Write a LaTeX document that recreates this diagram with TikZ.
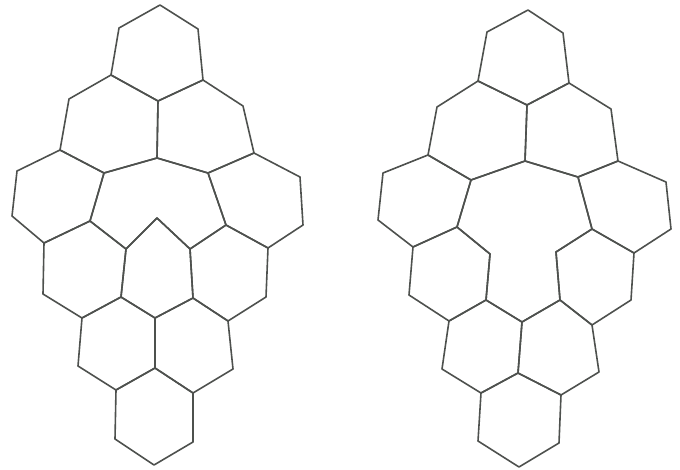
\documentclass[tikz,border=0pt]{standalone}
\begin{document}
\begin{tikzpicture}[x=1pt,y=-1pt,
  cell/.style={draw=edgegray,line width=1.6pt,line join=round}]
\definecolor{edgegray}{HTML}{4E514E}
\useasboundingbox (0,0) rectangle (680,469);
% ---- left figure vertices
\coordinate (A1) at (160,5);   \coordinate (A2) at (119,28);  \coordinate (A3) at (198,29);
\coordinate (A4) at (111,75);  \coordinate (A5) at (203,80);  \coordinate (A6) at (158,101);
\coordinate (B1) at (69,99);   \coordinate (B2) at (60,150);  \coordinate (B3) at (104,173);
\coordinate (B4) at (157,158); \coordinate (B5) at (243,106); \coordinate (B6) at (254,153);
\coordinate (B7) at (208,173);
\coordinate (C1) at (17,171);  \coordinate (C2) at (12,216);  \coordinate (C3) at (44,243);
\coordinate (C4) at (90,221);  \coordinate (C5) at (300,177); \coordinate (C6) at (303,225);
\coordinate (C7) at (268,248); \coordinate (C8) at (226,225);
\coordinate (D1) at (126,249); \coordinate (D2) at (157,218); \coordinate (D3) at (190,249);
\coordinate (E1) at (43,294);  \coordinate (E2) at (82,318);  \coordinate (E3) at (121,297);
\coordinate (E4) at (155,318); \coordinate (E5) at (193,298); \coordinate (E6) at (228,321);
\coordinate (E7) at (266,297);
\coordinate (F1) at (78,366);  \coordinate (F2) at (116,390); \coordinate (F3) at (155,368);
\coordinate (F4) at (193,393); \coordinate (F5) at (233,369);
\coordinate (G1) at (115,439); \coordinate (G2) at (154,465); \coordinate (G3) at (193,442);
% ---- left figure cells
\draw[cell] (A1)--(A3)--(A5)--(A6)--(A4)--(A2)--cycle;
\draw[cell] (A4)--(A6)--(B4)--(B3)--(B2)--(B1)--cycle;
\draw[cell] (A6)--(A5)--(B5)--(B6)--(B7)--(B4)--cycle;
\draw[cell] (B2)--(B3)--(C4)--(C3)--(C2)--(C1)--cycle;
\draw[cell] (B7)--(B6)--(C5)--(C6)--(C7)--(C8)--cycle;
\draw[cell] (B3)--(B4)--(B7)--(C8)--(D3)--(D2)--(D1)--(C4)--cycle;
\draw[cell] (C3)--(C4)--(D1)--(E3)--(E2)--(E1)--cycle;
\draw[cell] (D2)--(D3)--(E5)--(E4)--(E3)--(D1)--cycle;
\draw[cell] (C8)--(C7)--(E7)--(E6)--(E5)--(D3)--cycle;
\draw[cell] (E2)--(E3)--(E4)--(F3)--(F2)--(F1)--cycle;
\draw[cell] (E4)--(E5)--(E6)--(F5)--(F4)--(F3)--cycle;
\draw[cell] (F2)--(F3)--(F4)--(G3)--(G2)--(G1)--cycle;
% ---- right figure vertices
\coordinate (a1) at (528,10);  \coordinate (a2) at (487,32);  \coordinate (a3) at (563,33);
\coordinate (a4) at (478,81);  \coordinate (a5) at (569,83);  \coordinate (a6) at (527,105);
\coordinate (b1) at (437,107); \coordinate (b2) at (428,155); \coordinate (b3) at (471,180);
\coordinate (b4) at (525,161); \coordinate (b5) at (611,109); \coordinate (b6) at (618,161);
\coordinate (b7) at (578,177);
\coordinate (c1) at (383,173); \coordinate (c2) at (378,220); \coordinate (c3) at (413,247);
\coordinate (c4) at (457,227); \coordinate (c5) at (666,182); \coordinate (c6) at (671,229);
\coordinate (c7) at (634,253); \coordinate (c8) at (592,229);
\coordinate (d1) at (490,254); \coordinate (d2) at (556,252);
\coordinate (e1) at (409,295); \coordinate (e2) at (449,321); \coordinate (e3) at (486,300);
\coordinate (e4) at (522,322); \coordinate (e5) at (560,300); \coordinate (e6) at (592,325);
\coordinate (e7) at (631,300);
\coordinate (f1) at (442,369); \coordinate (f2) at (481,393); \coordinate (f3) at (518,373);
\coordinate (f4) at (561,395); \coordinate (f5) at (599,372);
\coordinate (g1) at (478,441); \coordinate (g2) at (519,467); \coordinate (g3) at (559,443);
% ---- right figure cells
\draw[cell] (a1)--(a3)--(a5)--(a6)--(a4)--(a2)--cycle;
\draw[cell] (a4)--(a6)--(b4)--(b3)--(b2)--(b1)--cycle;
\draw[cell] (a6)--(a5)--(b5)--(b6)--(b7)--(b4)--cycle;
\draw[cell] (b2)--(b3)--(c4)--(c3)--(c2)--(c1)--cycle;
\draw[cell] (b7)--(b6)--(c5)--(c6)--(c7)--(c8)--cycle;
\draw[cell] (b3)--(b4)--(b7)--(c8)--(d2)--(e5)--(e4)--(e3)--(d1)--(c4)--cycle;
\draw[cell] (c3)--(c4)--(d1)--(e3)--(e2)--(e1)--cycle;
\draw[cell] (c8)--(c7)--(e7)--(e6)--(e5)--(d2)--cycle;
\draw[cell] (e2)--(e3)--(e4)--(f3)--(f2)--(f1)--cycle;
\draw[cell] (e4)--(e5)--(e6)--(f5)--(f4)--(f3)--cycle;
\draw[cell] (f2)--(f3)--(f4)--(g3)--(g2)--(g1)--cycle;
\end{tikzpicture}
\end{document}
